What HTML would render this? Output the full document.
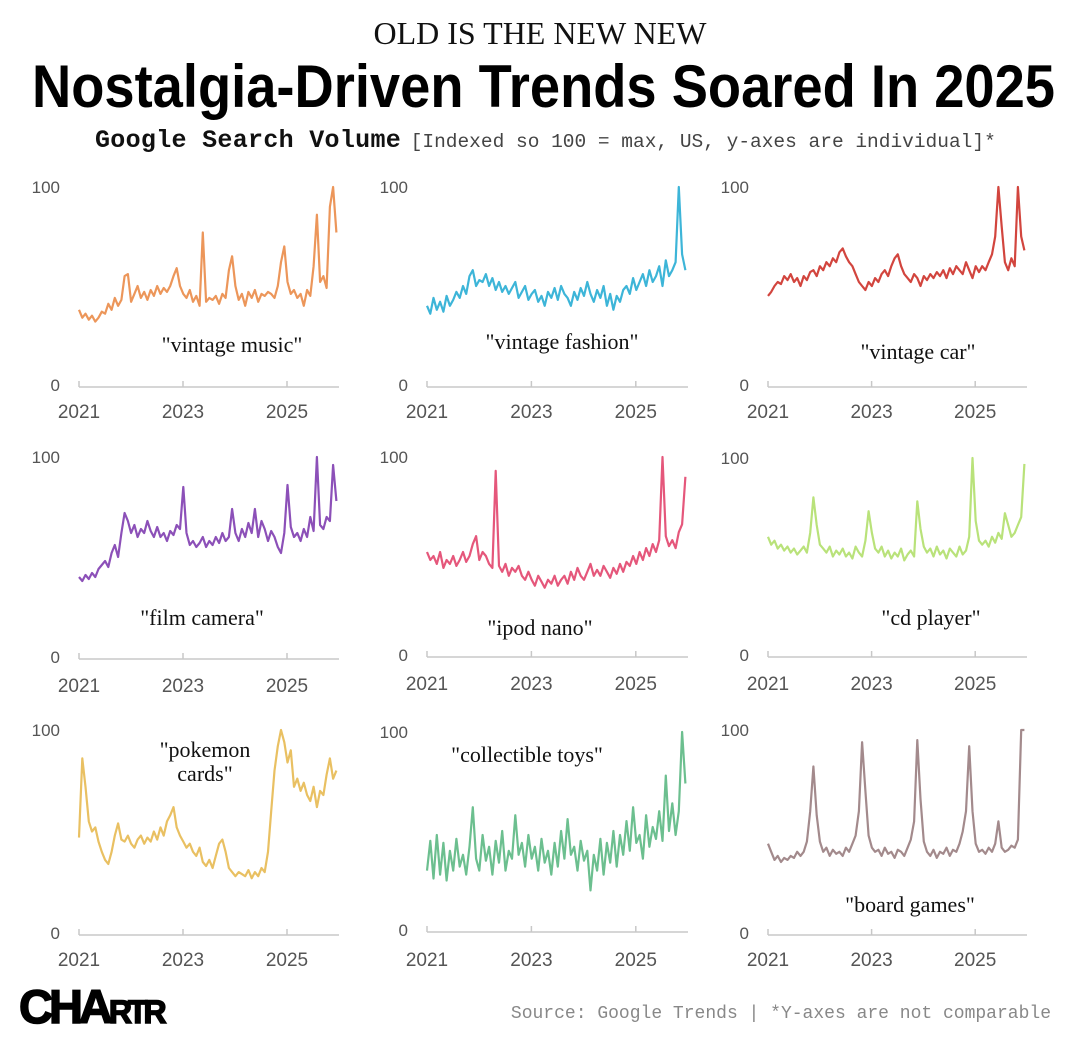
<!DOCTYPE html>
<html><head><meta charset="utf-8">
<style>
body{margin:0;background:#fff;width:1080px;height:1060px;overflow:hidden;position:relative;font-family:"Liberation Sans",sans-serif}
.abs{position:absolute}
</style></head><body>
<div class="abs" style="left:0;width:1080px;top:15px;text-align:center;font-family:'Liberation Serif',serif;font-size:32px;color:#111">OLD IS THE NEW NEW</div>
<div class="abs" style="left:32px;top:52px;white-space:nowrap;font-family:'Liberation Sans',sans-serif;font-weight:bold;font-size:60px;color:#000;transform-origin:left top" id="title">Nostalgia-Driven Trends Soared In 2025</div>
<div class="abs" style="left:95px;top:126px;font-family:'Liberation Mono',monospace;white-space:nowrap"><b style="font-size:25px;color:#111;letter-spacing:0.3px">Google Search Volume</b> <span style="font-size:19.5px;color:#444">[Indexed so 100 = max, US, y-axes are individual]*</span></div>
<svg id="chart" class="abs" style="left:0;top:0" width="1080" height="1060"></svg>
<div class="abs" style="left:19px;top:983px;font-family:'Liberation Sans',sans-serif;font-weight:900;font-size:47px;letter-spacing:-4px;color:#000;line-height:1"><b style="-webkit-text-stroke:1.5px #000">CHA<span style="font-size:32px">RTR</span></b></div>
<div class="abs" style="right:29px;top:1004px;font-family:'Liberation Mono',monospace;font-size:18px;color:#888">Source: Google Trends | *Y-axes are not comparable</div>
<script>
const yearTicks = ["2021","2023","2025"];
const vintageMusic = [38,34,36,33,35,32,34,37,36,41,38,44,40,43,55,56,42,46,50,44,47,43,48,45,50,46,49,47,50,55,59,50,46,44,48,42,45,40,77,42,44,43,45,41,46,44,58,65,50,43,46,40,47,44,48,42,46,45,47,46,44,50,62,70,52,46,48,44,46,40,48,45,60,86,52,55,49,90,100,77];
const vintageFashion = [40,36,44,38,42,37,45,40,43,47,44,50,46,55,58,50,53,52,56,50,54,48,52,47,50,46,49,52,44,47,50,43,46,48,42,45,40,47,44,49,43,50,46,44,40,47,43,49,45,52,46,42,48,44,50,40,46,38,45,42,48,50,46,54,48,52,56,50,58,52,55,60,50,63,55,58,62,100,66,58];
const vintageCar = [45,47,50,52,51,55,53,56,52,54,50,55,53,57,58,55,60,58,62,60,64,62,67,69,65,62,60,56,52,50,48,52,50,54,52,56,58,55,60,64,66,60,56,54,52,56,54,50,55,53,56,54,57,55,58,54,59,56,60,58,56,62,58,54,60,57,60,58,62,66,75,100,80,62,58,64,60,100,75,68];
const filmCamera = [40,38,41,39,42,40,44,46,48,45,52,56,50,62,72,68,62,66,60,64,62,68,63,60,65,60,62,58,63,61,66,64,85,62,56,58,55,57,60,55,58,56,60,57,62,58,60,74,62,58,64,60,67,62,74,60,68,64,58,63,60,55,52,62,86,65,60,62,58,64,60,70,63,100,66,64,70,68,96,78];
const ipodNano = [52,48,50,46,52,44,48,46,50,45,48,52,47,50,56,60,48,52,50,46,44,93,45,42,46,40,44,42,45,40,38,42,38,35,40,37,34,38,36,40,35,38,40,36,42,38,44,40,38,42,46,40,43,40,45,42,39,44,41,46,42,47,45,50,46,52,48,54,50,56,52,58,100,60,55,58,54,62,66,90];
const cdPlayer = [60,56,58,54,56,53,55,52,54,51,53,55,52,62,80,66,56,54,52,55,50,53,51,54,50,52,49,55,52,50,58,73,62,54,52,55,50,53,49,52,50,54,48,51,53,50,78,64,55,52,54,50,55,51,53,49,54,52,50,55,51,53,60,100,68,58,56,58,55,60,57,62,59,72,66,60,62,66,70,97];
const pokemonCards = [47,86,72,55,50,52,45,40,36,34,40,48,54,46,45,48,44,42,46,48,44,47,45,50,46,52,48,55,58,62,52,48,45,42,44,40,38,42,35,33,36,32,38,44,46,40,32,30,28,30,29,28,31,27,30,28,32,30,40,60,80,92,100,94,84,90,72,76,70,74,68,65,72,62,70,68,78,86,76,80];
const collectibleToys = [30,45,26,48,28,44,25,40,30,46,32,38,28,42,62,36,30,48,35,42,28,45,34,50,30,40,36,58,38,44,32,48,36,42,30,46,34,40,28,44,32,50,36,56,38,42,30,45,35,40,20,38,30,46,28,44,34,50,32,48,38,55,40,62,44,48,36,58,42,52,46,60,45,78,50,64,48,60,100,74];
const boardGames = [44,40,36,38,35,37,36,38,37,40,38,40,45,60,82,58,45,40,42,38,41,39,40,38,42,40,44,48,60,94,70,48,42,40,41,38,42,39,40,37,41,40,38,42,46,55,95,66,45,40,38,41,37,40,39,42,38,41,40,44,50,60,92,60,44,40,41,39,42,40,44,55,42,40,41,43,42,46,100,100];

const panels = [
 {name:"vintage-music",data:vintageMusic,color:"#EC965A",x0:79,ppy:52,y0:385,y100:187,ly:411,label:['"vintage music"'],lx:232,lyl:352},
 {name:"vintage-fashion",data:vintageFashion,color:"#3DB5D8",x0:427,ppy:52.2,y0:385,y100:187,ly:411,label:['"vintage fashion"'],lx:562,lyl:349},
 {name:"vintage-car",data:vintageCar,color:"#D2453E",x0:768,ppy:51.8,y0:385,y100:187,ly:411,label:['"vintage car"'],lx:918,lyl:359},
 {name:"film-camera",data:filmCamera,color:"#8C50B8",x0:79,ppy:52,y0:657,y100:457,ly:685,label:['"film camera"'],lx:202,lyl:625},
 {name:"ipod-nano",data:ipodNano,color:"#E5577B",x0:427,ppy:52.2,y0:655,y100:457,ly:683,label:['"ipod nano"'],lx:540,lyl:635},
 {name:"cd-player",data:cdPlayer,color:"#B9E27A",x0:768,ppy:51.8,y0:655,y100:458,ly:683,label:['"cd player"'],lx:931,lyl:625},
 {name:"pokemon-cards",data:pokemonCards,color:"#E9C062",x0:79,ppy:52,y0:933,y100:730,ly:959,label:['"pokemon','cards"'],lx:205,lyl:757},
 {name:"collectible-toys",data:collectibleToys,color:"#6CBF8F",x0:427,ppy:52.2,y0:930,y100:732,ly:959,label:['"collectible toys"'],lx:527,lyl:762},
 {name:"board-games",data:boardGames,color:"#A38A8C",x0:768,ppy:51.8,y0:933,y100:730,ly:959,label:['"board games"'],lx:910,lyl:912}
];
const NS="http://www.w3.org/2000/svg";
const svg=document.getElementById('chart');
function mk(tag,attrs,parent){const e=document.createElementNS(NS,tag);for(const k in attrs)e.setAttribute(k,attrs[k]);parent.appendChild(e);return e;}
panels.forEach(p=>{
  const g=mk('g',{},svg);
  
  
  const xs=t=>p.x0+(t-2021)*p.ppy;
  const ys=v=>p.y0-(v/100)*(p.y0-p.y100);
  const ax=mk('line',{x1:xs(2021),x2:xs(2026),y1:p.y0+2,y2:p.y0+2,stroke:"#c8c8c8","stroke-width":1.5},g);
  
  
  yearTicks.forEach(y=>{
    const x=xs(+y);
    const tk=mk('line',{x1:x,x2:x,y1:p.y0+2,y2:p.y0-4,stroke:"#c8c8c8","stroke-width":1.5},g);
    
    
    const t=mk('text',{x:x,y:p.ly+7,"text-anchor":"middle","font-size":19,fill:"#555","font-family":"Liberation Sans, sans-serif"},g);
    t.textContent=y;
    
    
  });
  [[100,p.y100],[0,p.y0]].forEach(([v,yy])=>{
    const t=mk('text',{x:p.x0-19,y:yy+6,"text-anchor":"end","font-size":17,fill:"#555","font-family":"Liberation Sans, sans-serif"},g);
    t.textContent=v;
    
    
  });
  const n=p.data.length;
  const pts=p.data.map((v,i)=>xs(2021+i*(4.95/(n-1))).toFixed(1)+","+ys(v).toFixed(1)).join(" ");
  const line=mk('polyline',{points:pts,fill:"none",stroke:p.color,"stroke-width":2.2,"stroke-linejoin":"round"},g);
  
  
  p.label.forEach((s,i)=>{
    const t=mk('text',{x:p.lx,y:p.lyl+i*24,"text-anchor":"middle","font-size":22,fill:"#111","font-family":"Liberation Serif, serif"},g);
    t.textContent=s;
    
    
  });
});
const ti=document.getElementById('title');
const w=ti.getBoundingClientRect().width;
ti.style.transform='scaleX('+(1023/w)+')';
</script>
</body></html>
